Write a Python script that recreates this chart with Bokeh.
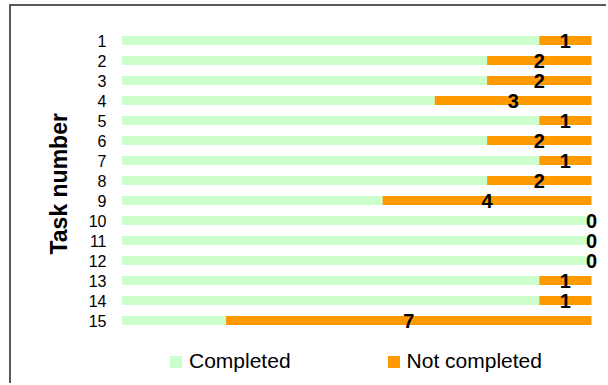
from bokeh.plotting import figure
from bokeh.models import Range1d, FixedTicker, Legend, LegendItem, ColumnDataSource
from bokeh.core.properties import value
from bokeh.embed import file_html
from bokeh.resources import INLINE

tasks = list(range(1, 16))
not_completed = [1, 2, 2, 3, 1, 2, 1, 2, 4, 0, 0, 0, 1, 1, 7]
total_users = 9
completed = [total_users - n for n in not_completed]
tick_labels = {t: str(t) for t in tasks}
axis_title = "Task number"

src = ColumnDataSource(dict(
    task=tasks,
    completed=completed,
    notc=not_completed,
    total=[total_users] * len(tasks),
    mid=[c + n / 2 for c, n in zip(completed, not_completed)],
    lab=[str(n) for n in not_completed],
))

FONT = "Liberation Sans"
GREEN = "#CCFFCC"
ORANGE = "#FF9900"

p = figure(width=597, height=379, output_backend="svg", toolbar_location=None,
           x_range=Range1d(0, 9.325), y_range=Range1d(18.25, 0),
           x_axis_location=None, min_border_left=110, min_border_right=0,
           min_border_top=14, min_border_bottom=0)
p.outline_line_color = None
p.grid.visible = False
p.background_fill_color = "white"
p.border_fill_color = "white"

r1 = p.hbar(y="task", left=0, right="completed", height=0.45, source=src,
            fill_color=GREEN, line_color=None)
r2 = p.hbar(y="task", left="completed", right="total", height=0.45, source=src,
            fill_color=ORANGE, line_color=None)
p.text(x="mid", y="task", text="lab", source=src, text_align="center",
       text_baseline="middle", text_font=value(FONT), text_font_style="bold",
       text_font_size="20px", text_color="black")

ax = p.yaxis[0]
ax.ticker = FixedTicker(ticks=tasks)
ax.major_label_overrides = tick_labels
ax.axis_line_color = None
ax.major_tick_line_color = None
ax.minor_tick_line_color = None
ax.major_label_text_font = FONT
ax.major_label_text_font_size = "16px"
ax.major_label_text_color = "black"
ax.major_label_standoff = 9
# leading no-break spaces lift the centred title to sit over the bars
ax.axis_label = "\u00a0" * 6 + axis_title
ax.axis_label_text_font = FONT
ax.axis_label_text_font_style = "bold"
ax.axis_label_text_font_size = "23px"
ax.axis_label_text_color = "black"
ax.axis_label_standoff = 14

legend = Legend(items=[LegendItem(label="Completed", renderers=[r1]),
                       LegendItem(label="Not completed", renderers=[r2])],
                location=(47, 12), orientation="horizontal",
                glyph_width=15, glyph_height=15, label_standoff=6, spacing=95,
                padding=0, margin=0, border_line_color=None,
                background_fill_alpha=0, label_text_font=FONT,
                label_text_font_size="21px", label_text_color="black")
p.add_layout(legend, "center")

p.styles = {"border-left": "2px solid #595959", "border-top": "2px solid #595959",
            "margin-left": "9px", "margin-top": "4px"}

open("out.html", "w").write(file_html(p, INLINE))
